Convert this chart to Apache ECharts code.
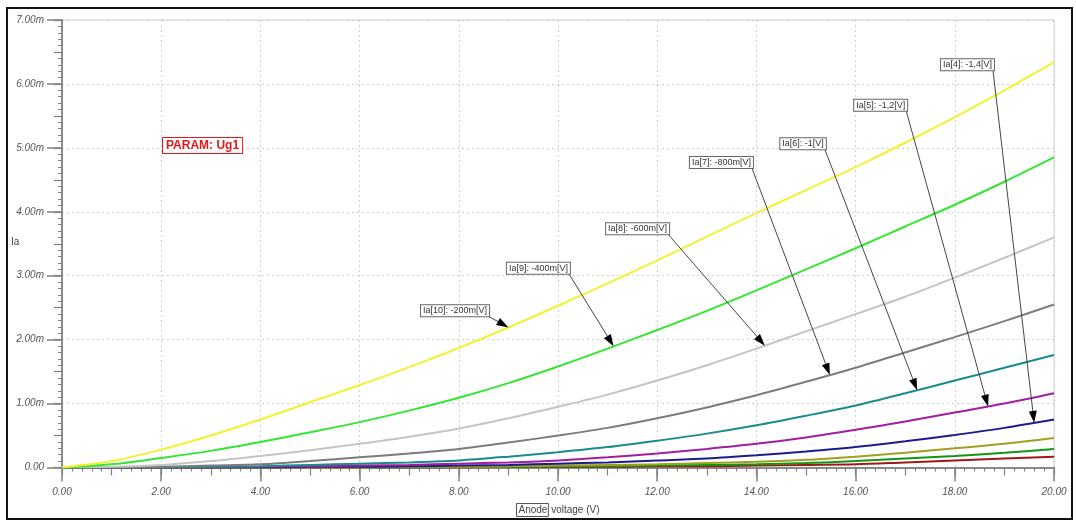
<!DOCTYPE html>
<html><head><meta charset="utf-8">
<script src="https://cdn.jsdelivr.net/npm/echarts@6/dist/echarts.min.js"></script>
<style>html,body{margin:0;padding:0;background:#fff}#c{width:1076px;height:522px}</style>
</head><body><div id="c"></div>
<script>
// Anode voltage (V)
const voltage = [0,1,2,3,4,5,6,7,8,9,10,11,12,13,14,15,16,17,18,19,20];
// Anode current Ia in mA (axis shows "m")
const ia10 = [0,0.10,0.28,0.50,0.75,1.02,1.29,1.57,1.87,2.19,2.53,2.88,3.24,3.61,3.98,4.34,4.70,5.08,5.48,5.90,6.34];
const ia9  = [0,0.05,0.15,0.26,0.40,0.55,0.71,0.89,1.09,1.32,1.58,1.86,2.15,2.45,2.77,3.10,3.43,3.77,4.11,4.47,4.85];
const ia8  = [0,0.01,0.04,0.10,0.18,0.27,0.37,0.48,0.61,0.77,0.95,1.14,1.36,1.60,1.86,2.13,2.40,2.67,2.97,3.28,3.60];
const ia7  = [0,0,0.01,0.03,0.05,0.10,0.16,0.22,0.29,0.39,0.50,0.62,0.77,0.94,1.13,1.34,1.56,1.80,2.04,2.29,2.55];
const ia6  = [0,0,0,0.01,0.02,0.04,0.06,0.08,0.11,0.17,0.24,0.32,0.42,0.53,0.66,0.81,0.97,1.16,1.36,1.56,1.76];
const ia5  = [0,0,0,0,0.01,0.02,0.03,0.04,0.06,0.08,0.11,0.16,0.22,0.29,0.37,0.47,0.59,0.72,0.86,1.00,1.16];
const ia4  = [0,0,0,0,0,0.01,0.01,0.02,0.03,0.04,0.06,0.08,0.11,0.14,0.19,0.25,0.32,0.41,0.51,0.62,0.75];
const ia3  = [0,0,0,0,0,0,0,0.01,0.01,0.02,0.03,0.04,0.05,0.07,0.09,0.12,0.17,0.23,0.30,0.37,0.46];
const ia2  = [0,0,0,0,0,0,0,0,0.01,0.01,0.02,0.02,0.03,0.04,0.05,0.07,0.10,0.14,0.18,0.23,0.29];
const ia1  = [0,0,0,0,0,0,0,0,0,0.01,0.01,0.01,0.02,0.02,0.03,0.04,0.05,0.08,0.11,0.14,0.17];

const curveNames = ['Ia[1]','Ia[2]','Ia[3]','Ia[4]','Ia[5]','Ia[6]','Ia[7]','Ia[8]','Ia[9]','Ia[10]'];
const curveData  = [ia1, ia2, ia3, ia4, ia5, ia6, ia7, ia8, ia9, ia10];
const curveColors = ['#a01818','#129612','#a0a020','#1c1c8c','#a01ea0','#1a8c8c','#7c7c7c','#c4c4c4','#33e633','#f2f230'];

// Annotation labels: text, curve index, box right-bottom anchor (V, mA), arrow target V
const annoText   = ['Ia[10]: -200m[V]','Ia[9]: -400m[V]','Ia[8]: -600m[V]','Ia[7]: -800m[V]','Ia[6]: -1[V]','Ia[5]: -1,2[V]','Ia[4]: -1,4[V]'];
const annoCurve  = [9,8,7,6,5,4,3];
const annoAnchorV = [8.61,10.24,12.24,13.93,15.40,17.04,18.79];
const annoAnchorI = [2.365,3.029,3.648,4.683,4.977,5.580,6.213];
const annoTargetV = [9.0,11.12,14.17,15.48,17.24,18.67,19.6];

const chart = echarts.init(document.getElementById('c'));
const FONT = 'Liberation Sans, Arial, sans-serif';
const lblStyle = {color:'#555', fontStyle:'italic', fontSize:10, fontFamily:FONT};

const series = curveData.map((d,i)=>({
  name: curveNames[i], type:'line', xAxisIndex:0, yAxisIndex:0,
  data: voltage.map((v,k)=>[v,d[k]]),
  smooth: 0.3, showSymbol:false, symbol:'none',
  lineStyle:{color:curveColors[i], width:2}, itemStyle:{color:curveColors[i]},
  z: 3, animation:false
}));

chart.setOption({
  animation:false,
  grid:{left:62, right:22, top:20, bottom:48, show:true, borderColor:'#cfcfcf', borderWidth:1},
  xAxis:[{
    type:'value', min:0, max:20, interval:2,
    name:'{b|Anode} voltage (V)', nameLocation:'middle', nameGap:36,
    nameTextStyle:{color:'#444', fontSize:10, fontFamily:FONT, rich:{b:{borderColor:'#555', borderWidth:1, padding:[2,1,1,2], color:'#444', fontSize:10, fontFamily:FONT}}},
    axisLine:{show:true, lineStyle:{color:'#8a8a8a', width:2}},
    axisTick:{show:true, length:14, lineStyle:{color:'#808080', width:1.5}},
    minorTick:{show:true, splitNumber:10, length:4, lineStyle:{color:'#808080', width:1}},
    axisLabel:Object.assign({margin:20, formatter:v=>v.toFixed(2)}, lblStyle),
    splitLine:{show:true, lineStyle:{color:'#d0d0d0', type:[2,3], width:1}}
  },{
    type:'value', min:0, max:20, interval:1, position:'bottom',
    axisLine:{show:false}, axisLabel:{show:false}, splitLine:{show:false},
    axisTick:{show:true, length:8, lineStyle:{color:'#808080', width:1.2}}
  }],
  yAxis:[{
    type:'value', min:0, max:7, interval:1,
    axisLine:{show:true, lineStyle:{color:'#8a8a8a', width:2}},
    axisTick:{show:true, length:15, lineStyle:{color:'#808080', width:1.5}},
    minorTick:{show:true, splitNumber:10, length:4, lineStyle:{color:'#808080', width:1}},
    axisLabel:Object.assign({margin:18, formatter:v=> v===0 ? '0.00' : v.toFixed(2)+'m'}, lblStyle),
    splitLine:{show:true, lineStyle:{color:'#d0d0d0', type:[2,3], width:1}}
  },{
    type:'value', min:0, max:7, interval:0.5, position:'left',
    axisLine:{show:false}, axisLabel:{show:false}, splitLine:{show:false},
    axisTick:{show:true, length:8, lineStyle:{color:'#808080', width:1.2}}
  }],
  series: series
});

function interp(arr, v){
  const k = Math.min(Math.floor(v), voltage.length-2);
  const t = v - voltage[k];
  return arr[k] + (arr[k+1]-arr[k])*t;
}

const gfx = [
  {type:'rect', shape:{x:7, y:8, width:1065, height:511}, style:{fill:'none', stroke:'#111', lineWidth:2}, silent:true, z:100},
  {type:'text', left:11, top:237, z:50, style:{text:'Ia', fill:'#444', font:'10px '+FONT}},
  {type:'text', left:162, top:137, z:50, style:{text:'PARAM: Ug1', fill:'#e01818', font:'bold 12px '+FONT,
     backgroundColor:'#fff', borderColor:'#e01818', borderWidth:1, padding:[2,3,1,3]}}
];
annoText.forEach((t,i)=>{
  const a = chart.convertToPixel({gridIndex:0}, [annoAnchorV[i], annoAnchorI[i]]);
  const tv = annoTargetV[i];
  const p = chart.convertToPixel({gridIndex:0}, [tv, interp(curveData[annoCurve[i]], tv)]);
  gfx.push({type:'text', x:a[0], y:a[1], z:50, style:{text:t, fill:'#333', font:'9px '+FONT,
     align:'right', verticalAlign:'bottom', backgroundColor:'#fff', borderColor:'#666', borderWidth:1, padding:[1,2,1,2]}});
  const dx = p[0]-a[0], dy = p[1]-a[1], L = Math.hypot(dx,dy);
  const ux = dx/L, uy = dy/L, nx = -uy, ny = ux;
  const hl = 12, hw = 4;
  const bx = p[0]-ux*hl, by = p[1]-uy*hl;
  gfx.push({type:'line', z:40, shape:{x1:a[0]-1, y1:a[1], x2:bx, y2:by}, style:{stroke:'#444', lineWidth:1}});
  gfx.push({type:'polygon', z:41, shape:{points:[[p[0],p[1]],[bx+nx*hw,by+ny*hw],[bx-nx*hw,by-ny*hw]]}, style:{fill:'#000'}});
});
chart.setOption({graphic: gfx});
</script>
</body></html>
